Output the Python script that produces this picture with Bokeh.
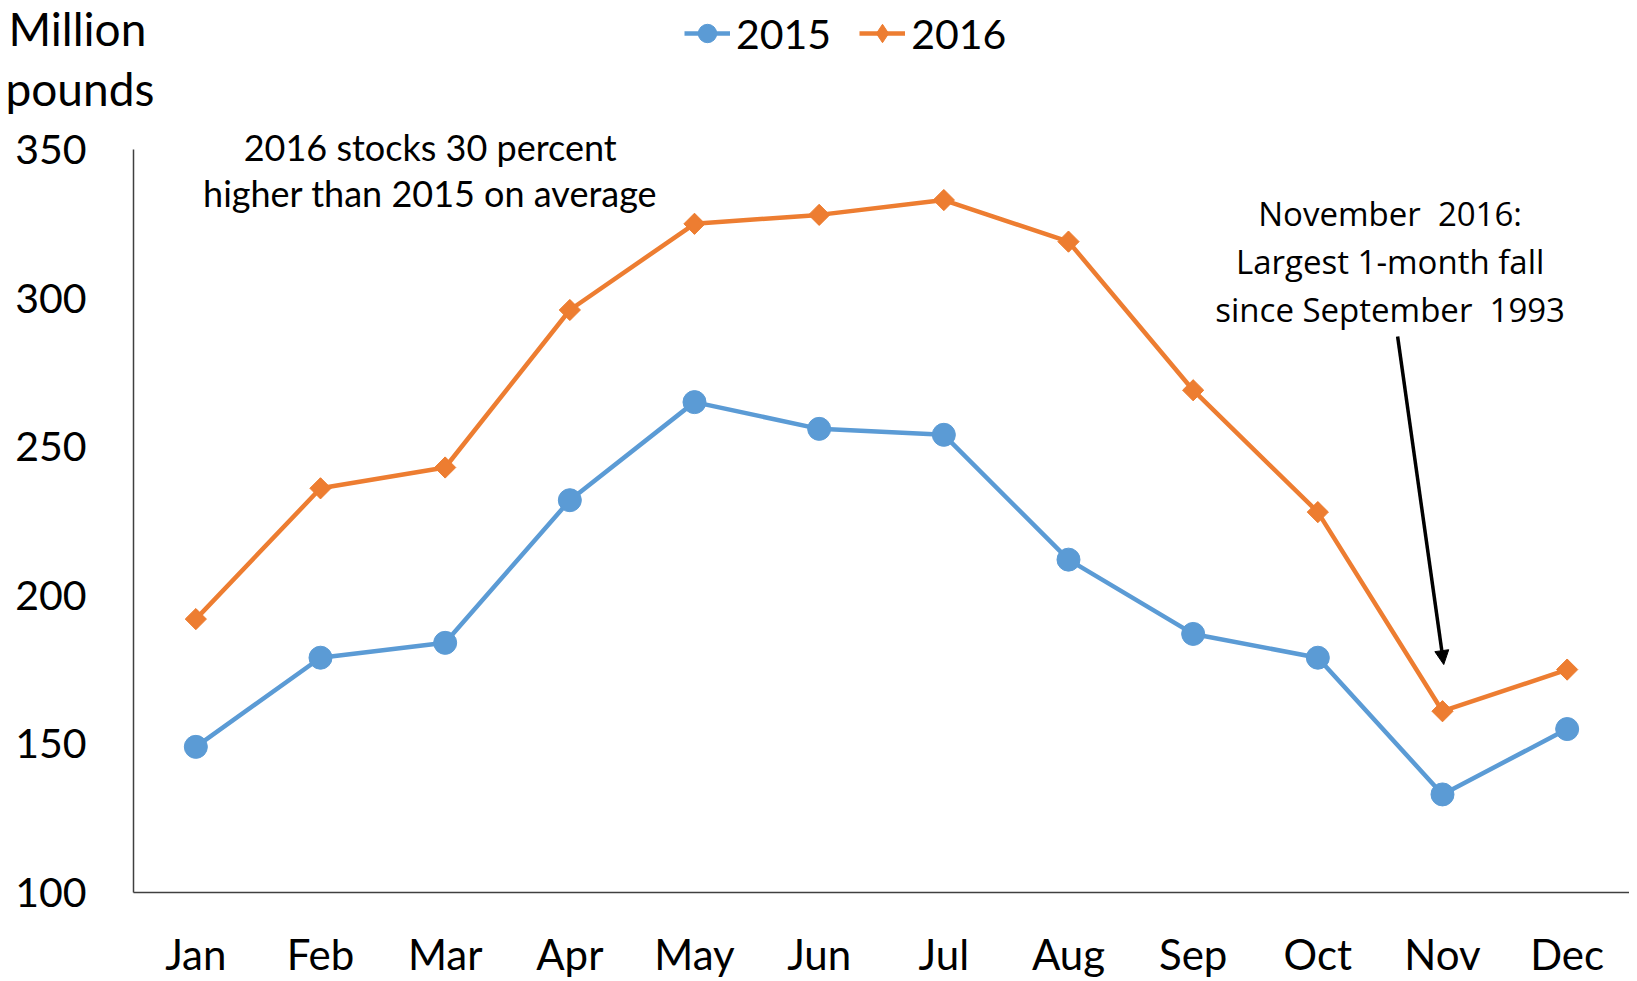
from bokeh.plotting import figure
from bokeh.models import (Range1d, FixedTicker, Label, Arrow, NormalHead,
                          Legend, LegendItem)
from bokeh.embed import file_html
from bokeh.resources import INLINE
import math

months = ["Jan", "Feb", "Mar", "Apr", "May", "Jun",
          "Jul", "Aug", "Sep", "Oct", "Nov", "Dec"]
stocks_2015 = [149, 179, 184, 232, 265, 256, 254, 212, 187, 179, 133, 155]
stocks_2016 = [192, 236, 243, 296, 325, 328, 333, 319, 269, 228, 161, 175]
y_ticks = [100, 150, 200, 250, 300, 350]

BLUE = "#5B9BD5"
ORANGE = "#ED7D31"
FONT = "Lato"

x = list(range(1, len(months) + 1))

# frame spans the whole canvas; axes are drawn with bounds at the data area
W, H = 1629, 978
PX_X = 124.67   # pixels per month
PX_Y = 2.972    # pixels per million pounds
x0 = 0.5 - 133 / PX_X
y1 = 350 + 149 / PX_Y
y0 = 100 - (H - 892) / PX_Y

p = figure(frame_width=W, frame_height=H,
           x_range=Range1d(x0, 12.5), y_range=Range1d(y0, y1),
           output_backend="svg", toolbar_location=None,
           min_border_left=0, min_border_top=0, min_border_right=0,
           min_border_bottom=0)
p.outline_line_color = None
p.xgrid.visible = False
p.ygrid.visible = False
p.background_fill_color = "white"

p.xaxis.ticker = FixedTicker(ticks=x)
p.xaxis.major_label_overrides = {i: m for i, m in zip(x, months)}
p.xaxis.bounds = (0.5, 12.5)
p.xaxis.fixed_location = 100
p.yaxis.ticker = FixedTicker(ticks=y_ticks)
p.yaxis.bounds = (100, 350)
p.yaxis.fixed_location = 0.5
for ax in (p.xaxis[0], p.yaxis[0]):
    ax.major_tick_line_color = None
    ax.minor_tick_line_color = None
    ax.axis_line_color = "#404040"
    ax.axis_line_width = 1.5
    ax.major_label_text_font = FONT
    ax.major_label_text_color = "black"
p.yaxis.major_label_text_font_size = "41px"
p.xaxis.major_label_text_font_size = "42px"
p.yaxis.major_label_standoff = 41
p.xaxis.major_label_standoff = 30

l15 = p.line(x, stocks_2015, line_color=BLUE, line_width=4.5)
s15 = p.scatter(x, stocks_2015, marker="circle", size=23,
                fill_color=BLUE, line_color=BLUE)
l16 = p.line(x, stocks_2016, line_color=ORANGE, line_width=4.5)
s16 = p.scatter(x, stocks_2016, marker="square", size=15, angle=math.pi / 4,
                fill_color=ORANGE, line_color=ORANGE)
# diamond glyph (fits inside the rotated squares) used for the legend key
d16 = p.scatter(x, stocks_2016, marker="diamond", size=20,
                fill_color=ORANGE, line_color=ORANGE)

legend = Legend(items=[LegendItem(label="2015", renderers=[l15, s15]),
                       LegendItem(label="2016", renderers=[l16, d16])],
                orientation="horizontal", location=(684, 920),
                label_text_font=FONT, label_text_font_size="41px",
                label_text_color="black",
                glyph_width=46, glyph_height=50, label_height=50,
                label_standoff=6, spacing=28, padding=0, margin=0,
                border_line_color=None, background_fill_alpha=0)
p.add_layout(legend)

# y-axis title
for txt, xx, yy in (("Million", -0.503, 390.6), ("pounds", -0.527, 370.6)):
    p.add_layout(Label(x=xx, y=yy, text=txt, text_font=FONT,
                       text_font_size="46px", text_color="black",
                       text_align="left", text_baseline="middle"))

# left annotation
for txt, yy in (("2016 stocks 30 percent", 350.9),
                ("higher than 2015 on average", 335.2)):
    p.add_layout(Label(x=2.88, y=yy, text=txt, text_font=FONT,
                       text_font_size="36px", text_color="black",
                       text_align="center", text_baseline="middle"))

# right annotation
for txt, yy in (("November \u00a02016:", 328.5),
                ("Largest 1-month fall", 312.3),
                ("since September \u00a01993", 296.2)):
    p.add_layout(Label(x=10.58, y=yy, text=txt, text_font="Open Sans",
                       text_font_size="33px", text_color="black",
                       text_align="center", text_baseline="middle"))

p.add_layout(Arrow(x_start=10.64, y_start=287.1, x_end=11.01, y_end=176.7,
                   line_color="black", line_width=3.5,
                   end=NormalHead(size=14, fill_color="black",
                                  line_color="black")))

open("out.html", "w").write(file_html(p, INLINE))
